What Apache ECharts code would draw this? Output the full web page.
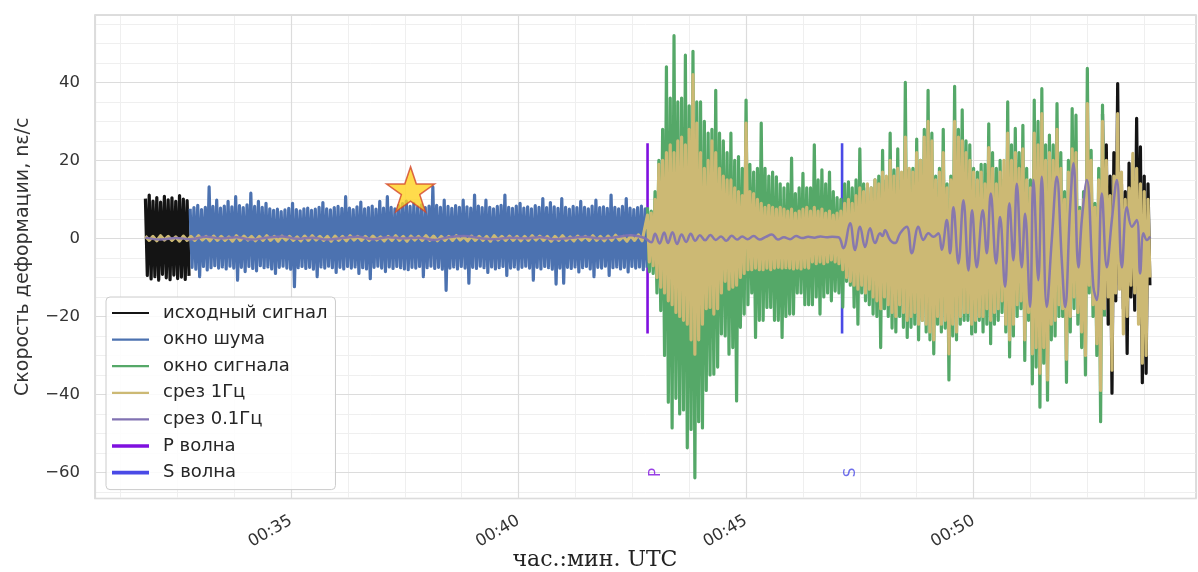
<!DOCTYPE html>
<html><head><meta charset="utf-8">
<script src="https://cdn.jsdelivr.net/npm/echarts@6/dist/echarts.min.js"></script>
<style>html,body{margin:0;padding:0;background:#fff}#c{width:1198px;height:572px}</style>
</head><body><div id="c"></div>
<script>
// ---------- data (time in seconds after 00:00 UTC, values in nε/с) ----------
const BIN_STEP = 5;          // envelope bin width, s
const PRE_STEP = 10;         // bin width of the 1 Hz trace before P, s

const P_TIME = 2570.1;
const S_TIME = 2826.6;
const PHASE_MARK_HALF = 24.4;
const PHASE_LABEL_Y = -60;
const STAR_POINT = [2257.6, 12.6];

// raw signal: visible part before the noise window and after the signal window
const BLACK_T0_A = 1908;
const BLACK_HI_A = [10.2, 11.1, 9.6, 10.5, 9.3, 10.8, 9.9, 10.4, 9.5, 11.0, 10.1, 9.7];
const BLACK_LO_A = [-9.5, -10.4, -9.8, -10.7, -9.2, -10.1, -10.6, -9.4, -10.3, -9.9, -10.5, -9.6];
const BLACK_T0_B = 3170;
const BLACK_HI_B = [32, 24, 16, 22, 39.7, 14, 12, 19.3, 15, 30.8, 23.5, 16, 14];
const BLACK_LO_B = [-14, -22, -39.7, -16, -12, -18, -29.5, -15, -18.4, -14, -37, -34.6, -12];

// noise window
const BLUE_T0 = 1967;
const BLUE_HI = [7.6,7.9,8.5,7.4,8.0,13.2,8.2,9.8,7.8,8.3, 9.5,8.1,10.7,8.4,7.9,8.6,11.6,8.2,9.5,8.0,
  9.0,7.6,7.2,7.5,6.9,7.3,7.7,9.0,7.4,7.1, 7.6,7.8,7.2,7.5,8.0,9.2,7.6,7.3,7.9,8.2,
  7.7,10.7,7.8,7.4,8.1,9.3,7.6,7.9,8.3,7.5, 9.5,7.8,10.7,8.0,7.6,8.4,8.9,9.6,8.2,9.0,
  8.1,8.6,7.9,8.3,13.2,8.5,8.0,9.8,8.2,7.7, 8.4,8.0,9.8,8.1,7.8,11.1,8.3,7.9,9.8,8.0,
  7.6,8.2,8.5,11.1,8.0,7.7,8.3,9.0,7.8,8.1, 7.6,8.4,8.0,10.2,7.9,9.2,8.1,7.7,10.2,8.0,
  7.5,8.2,7.9,9.5,8.0,7.6,8.3,9.8,7.9,8.1, 7.7,11.1,8.0,7.6,8.2,10.2,7.8,7.4,7.9,8.3, 7.6];
const BLUE_LO = [-7.4,-7.9,-9.8,-7.2,-8.1,-7.5,-7.0,-7.6,-7.3,-7.8, -7.1,-7.6,-10.7,-7.4,-8.5,-7.2,-7.7,-8.3,-7.0,-7.5,
  -7.3,-7.8,-9.0,-7.4,-7.1,-7.6,-7.9,-12.4,-7.5,-7.2, -7.7,-7.4,-7.9,-9.8,-7.3,-7.6,-7.1,-7.5,-8.7,-7.4,
  -7.8,-7.2,-7.6,-7.3,-9.0,-7.5,-7.8,-10.3,-7.4,-7.1, -7.6,-8.5,-7.3,-7.7,-7.2,-7.5,-7.8,-8.0,-7.4,-7.6,
  -7.2,-9.8,-7.5,-7.1,-7.7,-7.4,-7.9,-13.3,-7.6,-7.3, -7.8,-7.2,-7.6,-11.5,-7.4,-7.7,-7.1,-7.5,-8.7,-7.3,
  -7.8,-7.5,-7.2,-9.5,-7.6,-7.3,-7.9,-7.4,-7.1,-7.6, -10.7,-7.4,-7.8,-7.2,-7.5,-7.9,-11.7,-7.6,-11.5,-7.4,
  -7.7,-7.3,-8.6,-7.5,-7.2,-7.8,-9.8,-7.4,-7.6,-7.1, -9.5,-7.5,-7.3,-7.8,-7.4,-8.6,-7.2,-7.6,-7.3,-8.0, -7.5];

// signal window
const GREEN_T0 = 2570;
const GREEN_HI = [8,7,12,20,28,44,36,52,35,36, 47,34,48,35,35,30,27,28,38,27,
  25,22,27,20,21,18,35.5,19,17,18, 29.6,18,16,17,15.8,14,13,14,20.6,11.5,
  13,16.7,13,13,24,15,17.6,14,17,12, 10.5,10,14,14.5,13,15,23,14,13,13,
  15,16,22.6,15,27,17.6,23,15,40,17.6, 18,25.5,20,28,38,27,16,18,28,14,
  16,39,28,33,25,24,18,17,19,19, 29.4,22,18,20,15,35,24,28.2,22,29,
  18,15,35.5,30,38.4,24,26.5,24,34.6,22, 12,20,33.3,31.6,8,12,43.6,22.6,9,18, 34.2];
const GREEN_LO = [-8.5,-9,-14,-18.5,-30,-42,-48.6,-41,-45,-44, -53.7,-49,-61.4,-47,-48.6,-39,-35,-34.8,-33,-24.5,
  -25,-29.7,-28,-41.7,-22.8,-19.4,-17,-14,-25.4,-21, -21,-17.7,-17.7,-21,-21,-25.4,-20,-19.4,-19.4,-14,
  -14,-17,-17,-17,-15,-19.4,-15,-14,-16,-13.5, -14,-17.6,-11,-12,-17.6,-22,-14,-16,-17,-19.4,
  -20,-28,-18,-20,-23,-24,-20,-22.8,-25.4,-22.8, -22,-26,-21,-24,-26,-29.6,-22,-24,-23,-36.3,
  -25,-26,-22,-21,-21,-24.5,-24,-21,-24,-22, -27,-22,-21,-19,-24,-30.4,-25,-20,-18,-31.3,
  -21,-37.3,-33,-43.3,-32,-41.5,-26,-25,-20,-20, -36.9,-24,-18,-22,-28,-35,-14,-20,-30,-47, -20];

// 1 Hz low-pass
const TAN_PRE_T0 = 1908;
const TAN_PRE_HI = [0.6,0.5,0.7,0.5,0.4,0.6,0.5,0.7,0.5,0.6, 0.5,0.4,0.7,0.6,0.5,0.5,0.7,0.5,0.6,0.5,
  0.4,0.6,0.7,0.5,0.5,0.6,0.5,0.7,0.5,0.5, 0.6,0.4,0.5,0.7,0.5,0.6,0.5,0.7,0.6,0.5,
  0.5,0.7,0.4,0.6,0.5,0.5,0.7,0.5,0.6,0.5, 0.5,0.7,0.6,0.5,0.5,0.7,0.4,0.6,0.5,0.7, 0.5,0.6,0.8,0.5,0.7,0.9];
const TAN_PRE_LO = [-0.5,-0.6,-0.4,-0.5,-0.7,-0.5,-0.5,-0.4,-0.6,-0.5, -0.5,-0.7,-0.5,-0.4,-0.6,-0.5,-0.5,-0.7,-0.4,-0.5,
  -0.6,-0.5,-0.4,-0.5,-0.7,-0.5,-0.6,-0.4,-0.5,-0.5, -0.4,-0.6,-0.5,-0.5,-0.7,-0.4,-0.5,-0.5,-0.6,-0.5,
  -0.5,-0.4,-0.6,-0.5,-0.5,-0.7,-0.4,-0.5,-0.5,-0.6, -0.5,-0.4,-0.5,-0.7,-0.5,-0.5,-0.6,-0.4,-0.5,-0.5, -0.6,-0.5,-0.4,-0.7,-0.5,-0.6];
const TAN_T0 = 2570;
const TAN_HI = [6,6.5,10,19,20,22,24,22,25,26, 24,28,42,29.6,22,18,20,25,22,18,
  16,15,15,13,12,11,29.6,12,11.5,10, 9,8,8.5,8,7.5,8,7.5,7,7.5,6.5,
  7,7.5,8,7,8,7,7.5,6.5,7,6, 6.5,7,9,10,9,11,13,12,14,13,
  15,14,17,16,20,16,18,17,26,18, 17,22,20,26,30,25,15,17,22,13,
  15,30,26,25,22,20,17,15,17,14, 23.3,18,14,17,20,27,20,22,18,23,
  15,13,27,24,32,20,22,20,28,18, 10,17,23,22,7,10,34.6,20,8,15,
  30,20,11,16,32,17,10,13,21.8,18, 14,12,10];
const TAN_LO = [-6,-7,-10,-12.5,-14,-16,-17,-19,-20,-21, -22,-26,-29.7,-26,-22,-18,-17.7,-19.4,-18,-14,
  -11,-13,-12.5,-12,-10,-9,-8,-8,-7.6,-8, -8,-7.6,-8,-7.6,-7.4,-7.6,-7.5,-7.6,-7.8,-7.6,
  -7.8,-7.4,-7.6,-6,-6.5,-6,-6.5,-6,-5.5,-6, -6.5,-8,-10,-11,-12,-13,-12,-14,-13,-15,
  -16,-18,-15,-17,-19,-20,-17,-19,-21,-20, -19,-22,-21,-22,-24,-26,-20,-22,-21,-29.6,
  -22,-24,-20,-19,-19,-22,-21,-20,-20,-18, -21,-19,-18,-16,-22,-26,-22,-17,-16,-26,
  -19,-29.6,-28,-34.6,-28,-36.3,-22,-21,-17,-18, -31,-20,-15,-19,-24,-30,-12,-17,-27,-39,
  -18,-15,-33.8,-14,-13,-24.5,-20,-12,-14,-22, -32,-30,-10];

// 0.1 Hz low-pass (turning points)
const PURPLE_T = [1908,1928,1948,1968,1988,2008,2028,2048,2068,2088,2108,2128,2148,2168,2188,2208,2228,2248,2268,2288,
  2308,2328,2348,2368,2388,2408,2428,2448,2468,2488,2508,2528,2548,2566,
  2575,2580,2586,2592,2597,2603,2609,2615,2621,2627,2633,2639,2646,2653,2660,2667,2674,2681,2688,2695,
  2702,2710,2718,2726,2734,2742,2750,2758,2766,2774,2782,2790,2798,2806,2814,2822,
  2828.3,2837.1,2843.7,2850.3,2856.9,2863.5,2870.1,2876.7,2880,2883.3,2889.9,2896.5,2903.1,2911.9,2918.5,2927.2,
  2933.8,2940.4,2947,2953.6,2958,2964.7,2969,2973.4,2980,2986.6,2993.2,2998,3004.2,3012.1,3017.4,3022.7,
  3029.7,3034.9,3041.5,3047.2,3052.5,3057,3063.5,3067.9,3074.5,3078.9,3085.4,3089.9,3096.5,3103.1,3109.7,
  3116.3,3120.7,3127.3,3131.7,3138.3,3142.7,3149.3,3158,3162.5,3169.1,3175.7,3182.3,3188.9,3195.5,3202.1,
  3208.7,3215.2,3219.6,3224,3228.5,3232.9];
const PURPLE_V = [0.2,-0.3,0.1,-0.2,0.4,0,0.3,-0.3,0.2,0.5,-0.1,0.2,-0.3,0.1,0.4,-0.2,0.3,0,0.2,-0.4,
  0.3,0.6,0.1,-0.2,0.2,0,0.3,-0.2,0.1,0.4,0,0.3,0.8,0.1,
  -1.0,1.2,-1.3,1.5,-1.2,1.6,-1.4,1.0,-0.9,1.2,-0.6,0.8,-0.5,0.9,-0.4,0.5,-0.6,0.7,-0.3,0.5,
  -0.2,0.6,-0.3,0.4,1.0,-0.3,0.3,-0.2,0.6,0.1,0.4,0.2,0.5,0.3,0.4,0.3,
  -2.5,3.9,-3,3,-2.2,2.6,-1.2,1.3,0.6,2.1,-0.4,-1.2,1.3,3,-3.8,3,
  -0.4,1.3,0.4,1.3,-2.9,4.7,-3.8,8,-6.4,9.8,-8.2,7.2,-7.4,7.2,-3.8,11.5,
  -6.4,5.5,-12.4,9,-5.6,14,-7.4,6.3,-17.6,15,-10.7,15.8,-17.6,-0.4,15.8,
  -5.6,-17.6,8,19.3,-7.4,4.7,15,-12.4,-15.8,11.5,-7.4,4.7,15,-7.4,8,
  3,4.7,-9,1.3,-0.4,0.5];

const X_RANGE_MIN = [30.692, 54.888];   // axis extent in minutes
const Y_RANGE = [-66.7, 57.3];
const X_MAJOR = 5, X_MINOR = 1.25, Y_MAJOR = 20, Y_MINOR = 5;

const NAMES = ['исходный сигнал','окно шума','окно сигнала','срез 1Гц','срез 0.1Гц','P волна','S волна'];
const COLORS = {raw:'#141414', noise:'#4C72B0', signal:'#55A868', f1:'#CCB974', f01:'#8172B2', p:'#7f10df', s:'#4a4ae6'};

// ---------- build ----------
// each bin is drawn as one down-up stroke: its maximum, then its minimum half a bin later
function zig(t0, step, hi, lo) {
  const out = [];
  for (let i = 0; i < hi.length; i++) {
    const tHi = t0 + i * step;
    const tLo = tHi + step * 0.5;
    out.push([tHi / 60, hi[i]]);
    out.push([tLo / 60, lo[i]]);
  }
  return out;
}
const blackData = zig(BLACK_T0_A, BIN_STEP, BLACK_HI_A, BLACK_LO_A)
  .concat([[null, null]])
  .concat(zig(BLACK_T0_B, BIN_STEP, BLACK_HI_B, BLACK_LO_B));
const blueData = zig(BLUE_T0, BIN_STEP, BLUE_HI, BLUE_LO);
const greenData = zig(GREEN_T0, BIN_STEP, GREEN_HI, GREEN_LO);
const tanData = zig(TAN_PRE_T0, PRE_STEP, TAN_PRE_HI, TAN_PRE_LO).concat(zig(TAN_T0, BIN_STEP, TAN_HI, TAN_LO));
const purpleData = PURPLE_T.map((t, i) => [t / 60, PURPLE_V[i]]);

const font = 'DejaVu Sans';
const traceBase = {type:'line', showSymbol:false, symbol:'none', animation:false, xAxisIndex:1, yAxisIndex:1,
  connectNulls:false, sampling:null, large:false, progressive:0, clip:true};
const TRACE_W = 3.2;

const chart = echarts.init(document.getElementById('c'), null, {renderer:'canvas'});
const fmtMin = v => '00:' + String(Math.round(v)).padStart(2, '0');
const fmtY = v => (v < 0 ? '\u2212' + Math.abs(Math.round(v)) : String(Math.round(v)));
const THIN_ICON = 'path://M0,0 H37 V2.2 H0 Z';
const THICK_ICON = 'path://M0,0 H37 V3.6 H0 Z';
const legItem = (name, color, icon) => ({name:name, icon:icon, itemStyle:{color:color, borderWidth:0}});

chart.setOption({
  animation:false,
  backgroundColor:'#ffffff',
  grid:{left:95, right:2, top:15, bottom:73.5, show:true, borderColor:'#d2d2d2', borderWidth:1.5, backgroundColor:'#ffffff'},
  xAxis:[
    {type:'value', min:X_RANGE_MIN[0], max:X_RANGE_MIN[1], minInterval:X_MINOR, maxInterval:X_MINOR, position:'bottom',
     axisLine:{show:false}, axisTick:{show:false}, axisLabel:{show:false},
     splitLine:{show:true, lineStyle:{color:'#efefef', width:1}}},
    {type:'value', min:X_RANGE_MIN[0], max:X_RANGE_MIN[1], minInterval:X_MAJOR, maxInterval:X_MAJOR, position:'bottom', z:1,
     axisLine:{show:false}, axisTick:{show:false},
     axisLabel:{show:true, rotate:30, margin:21, formatter:fmtMin, showMinLabel:false, showMaxLabel:false,
       fontFamily:font, fontSize:16.5, color:'#333'},
     splitLine:{show:true, lineStyle:{color:'#dcdcdc', width:1.2}}}
  ],
  yAxis:[
    {type:'value', min:Y_RANGE[0], max:Y_RANGE[1], minInterval:Y_MINOR, maxInterval:Y_MINOR, position:'left',
     axisLine:{show:false}, axisTick:{show:false}, axisLabel:{show:false},
     splitLine:{show:true, lineStyle:{color:'#efefef', width:1}}},
    {type:'value', min:Y_RANGE[0], max:Y_RANGE[1], minInterval:Y_MAJOR, maxInterval:Y_MAJOR, position:'left', z:1,
     axisLine:{show:false}, axisTick:{show:false},
     axisLabel:{show:true, margin:15, formatter:fmtY, showMinLabel:false, showMaxLabel:false,
       fontFamily:font, fontSize:16.5, color:'#333'},
     splitLine:{show:true, lineStyle:{color:'#dcdcdc', width:1.2}},
     name:'Скорость деформации, nε/с', nameLocation:'middle', nameGap:62,
     nameTextStyle:{fontFamily:font, fontSize:19, color:'#333'}}
  ],
  legend:{
    left:106, top:297, orient:'vertical', itemWidth:37, itemHeight:14, itemGap:6.6, symbolKeepAspect:true,
    padding:[6,8,7,6], backgroundColor:'rgba(255,255,255,0.85)', borderColor:'#cccccc', borderWidth:1, borderRadius:4,
    textStyle:{fontFamily:font, fontSize:18, color:'#262626', lineHeight:20, padding:[0,0,0,9]},
    data:[
      legItem(NAMES[0], COLORS.raw, THIN_ICON),
      legItem(NAMES[1], COLORS.noise, THIN_ICON),
      legItem(NAMES[2], COLORS.signal, THIN_ICON),
      legItem(NAMES[3], COLORS.f1, THIN_ICON),
      legItem(NAMES[4], COLORS.f01, THIN_ICON),
      legItem(NAMES[5], COLORS.p, THICK_ICON),
      legItem(NAMES[6], COLORS.s, THICK_ICON)
    ],
    selectedMode:false
  },
  graphic:[
    {type:'text', x:595, y:560, style:{text:'час.:мин. UTC', fontFamily:'DejaVu Serif', fontSize:22, fill:'#222',
      textAlign:'center', textVerticalAlign:'middle'}}
  ],
  series:[
    Object.assign({}, traceBase, {name:NAMES[5], z:2, data:[[P_TIME/60, -PHASE_MARK_HALF],[P_TIME/60, PHASE_MARK_HALF]],
      lineStyle:{color:COLORS.p, width:2.6}, itemStyle:{color:COLORS.p}}),
    Object.assign({}, traceBase, {name:NAMES[6], z:2, data:[[S_TIME/60, -PHASE_MARK_HALF],[S_TIME/60, PHASE_MARK_HALF]],
      lineStyle:{color:COLORS.s, width:2.6}, itemStyle:{color:COLORS.s}}),
    Object.assign({}, traceBase, {name:NAMES[0], z:3, data:blackData, lineStyle:{color:COLORS.raw, width:TRACE_W, join:'round'}, itemStyle:{color:COLORS.raw}}),
    Object.assign({}, traceBase, {name:NAMES[1], z:3, data:blueData, lineStyle:{color:COLORS.noise, width:TRACE_W, join:'round'}, itemStyle:{color:COLORS.noise}}),
    Object.assign({}, traceBase, {name:NAMES[2], z:3, data:greenData, lineStyle:{color:COLORS.signal, width:TRACE_W, join:'round'}, itemStyle:{color:COLORS.signal}}),
    Object.assign({}, traceBase, {name:NAMES[3], z:3, data:tanData, lineStyle:{color:COLORS.f1, width:TRACE_W, join:'round'}, itemStyle:{color:COLORS.f1}}),
    Object.assign({}, traceBase, {name:NAMES[4], z:3, data:purpleData, smooth:0.4, lineStyle:{color:COLORS.f01, width:2.5, opacity:0.92}, itemStyle:{color:COLORS.f01}}),
    {type:'scatter', xAxisIndex:1, yAxisIndex:1, z:4, silent:true, symbolSize:0.1, itemStyle:{color:'rgba(0,0,0,0)'},
     data:[{value:[P_TIME/60, PHASE_LABEL_Y], label:{color:COLORS.p}}, {value:[S_TIME/60, PHASE_LABEL_Y], label:{color:COLORS.s}}],
     label:{show:true, position:'inside', offset:[0,9], rotate:90, fontFamily:font, fontSize:15,
       formatter:p => (p.dataIndex === 0 ? 'P' : 'S')}},
    {type:'scatter', xAxisIndex:1, yAxisIndex:1, z:5, silent:true,
     symbol:'path://M50,0 L61.8,35.3 L99,35.3 L68.8,57.1 L80.3,92.4 L50,70.6 L19.7,92.4 L31.2,57.1 L1,35.3 L38.2,35.3 Z',
     symbolSize:[48,45], itemStyle:{color:'#FFD21F', borderColor:'#D2452B', borderWidth:1.5},
     data:[[STAR_POINT[0]/60, STAR_POINT[1]]]}
  ]
});
</script></body></html>
